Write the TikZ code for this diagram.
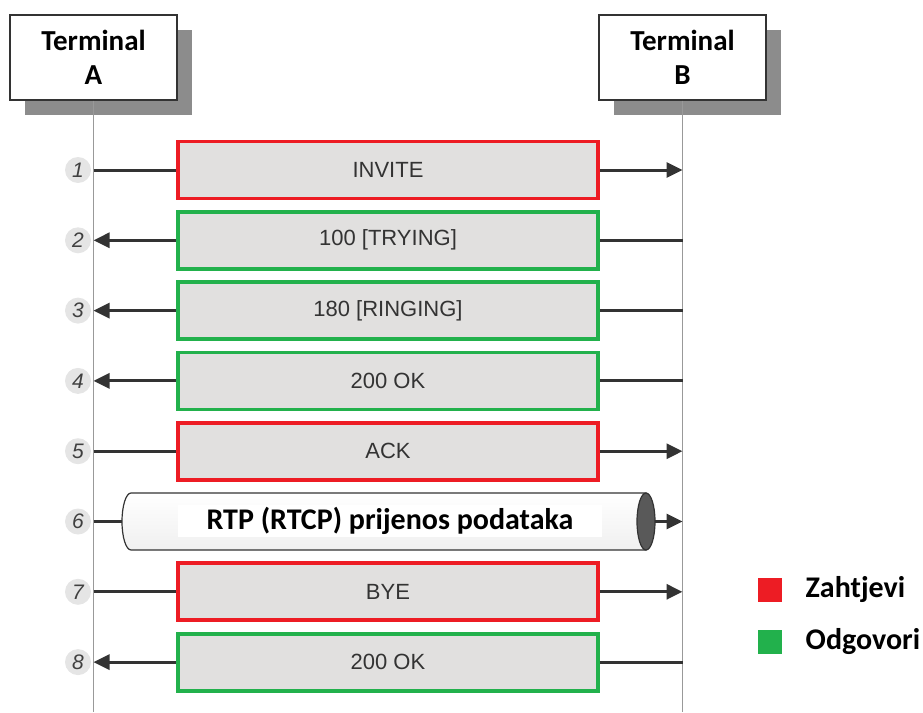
\documentclass[tikz,border=0pt]{standalone}
\usepackage{fontspec}
\setmainfont{Liberation Sans}
\newfontfamily\calibrifont{Carlito}
\usetikzlibrary{arrows.meta,positioning,shadows}
\definecolor{reqred}{HTML}{ED1C24}
\definecolor{respgreen}{HTML}{22B14C}
\definecolor{msggray}{HTML}{E1E0DF}
\definecolor{linegray}{HTML}{333333}

\begin{document}
\begin{tikzpicture}[x=1pt,y=-1pt,
terminal/.style={draw=linegray,fill=white,line width=1.3pt,minimum width=167pt,minimum height=85pt,align=center,
font=\calibrifont\bfseries\fontsize{29}{34}\selectfont,drop shadow={shadow xshift=15pt,shadow yshift=-15pt,fill=black!45,opacity=1}},
request/.style={draw=reqred,fill=msggray,line width=3.8pt,minimum width=420pt,minimum height=57pt,
font=\fontsize{22}{26}\selectfont,text=black!80},
response/.style={request,draw=respgreen},
stepno/.style={circle,fill=black!10,minimum size=26pt,inner sep=0pt,font=\itshape\fontsize{21}{24}\selectfont,text=black!75},
lifeline/.style={draw=black!40,line width=1.2pt},
msgline/.style={draw=linegray,line width=3pt},
msgtoB/.style={msgline,-{Triangle[length=16pt,width=15pt]}},
msgtoA/.style={msgline,{Triangle[length=16pt,width=15pt]}-},
legkey/.style={minimum size=24pt,inner sep=0pt},
legtext/.style={font=\calibrifont\bfseries\fontsize{30}{34}\selectfont}]
\useasboundingbox (0,0) rectangle (923,712);
\node[terminal] (ta) at (93.5,57.5) {Terminal\\A};
\node[terminal] (tb) at (682.5,57.5) {Terminal\\B};
\coordinate (ta-end) at (93.5,712);
\coordinate (tb-end) at (682.5,712);
\draw[lifeline] (ta) -- (ta-end);
\draw[lifeline] (tb) -- (tb-end);
\foreach \i/\txt/\kind/\lsty/\rsty in {1/INVITE/request/msgline/msgtoB,2/100 [TRYING]/response/msgtoA/msgline,
3/180 [RINGING]/response/msgtoA/msgline,4/200 OK/response/msgtoA/msgline,5/ACK/request/msgline/msgtoB,
7/BYE/request/msgline/msgtoB,8/200 OK/response/msgtoA/msgline} {
\pgfmathsetmacro\rowy{170+(\i-1)*70.3}
\node[stepno] (n\i) at (78,\rowy) {\i};
\coordinate (a\i) at (93.5,\rowy);
\coordinate (b\i) at (682.5,\rowy);
\node[\kind] (m\i) at (388,\rowy) {\txt};
\draw[\lsty] (a\i) -- (m\i);
\draw[\rsty] (m\i) -- (b\i);
}
\node[stepno] (n6) at (78,521.5) {6};
\coordinate (a6) at (93.5,521.5);
\coordinate (b6) at (682.5,521.5);
\coordinate (c6w) at (122,521.5);
\coordinate (c6e) at (655,521.5);
\draw[linegray,line width=1.2pt,top color=white,bottom color=black!6]
(131,493) -- (646,493) -- (646,550) -- (131,550) arc[start angle=270,end angle=90,x radius=9pt,y radius=28.5pt] -- cycle;
\draw[linegray,line width=1.2pt,fill=black!65] (646,521.5) ellipse[x radius=9pt,y radius=28.5pt];
\node[fill=white,minimum width=424pt,minimum height=32pt,inner sep=0pt,legtext] (m6) at (390,521) {RTP (RTCP) prijenos podataka};
\draw[msgline] (a6) -- (c6w);
\draw[msgtoB] (c6e) -- (b6);
\node[legkey,fill=reqred] (kreq) at (770,590) {};
\node[legtext,right=20pt of kreq] (lreq) {Zahtjevi};
\node[legkey,fill=respgreen] (kresp) at (770,642) {};
\node[legtext,right=20pt of kresp] (lresp) {Odgovori};
\end{tikzpicture}
\end{document}
